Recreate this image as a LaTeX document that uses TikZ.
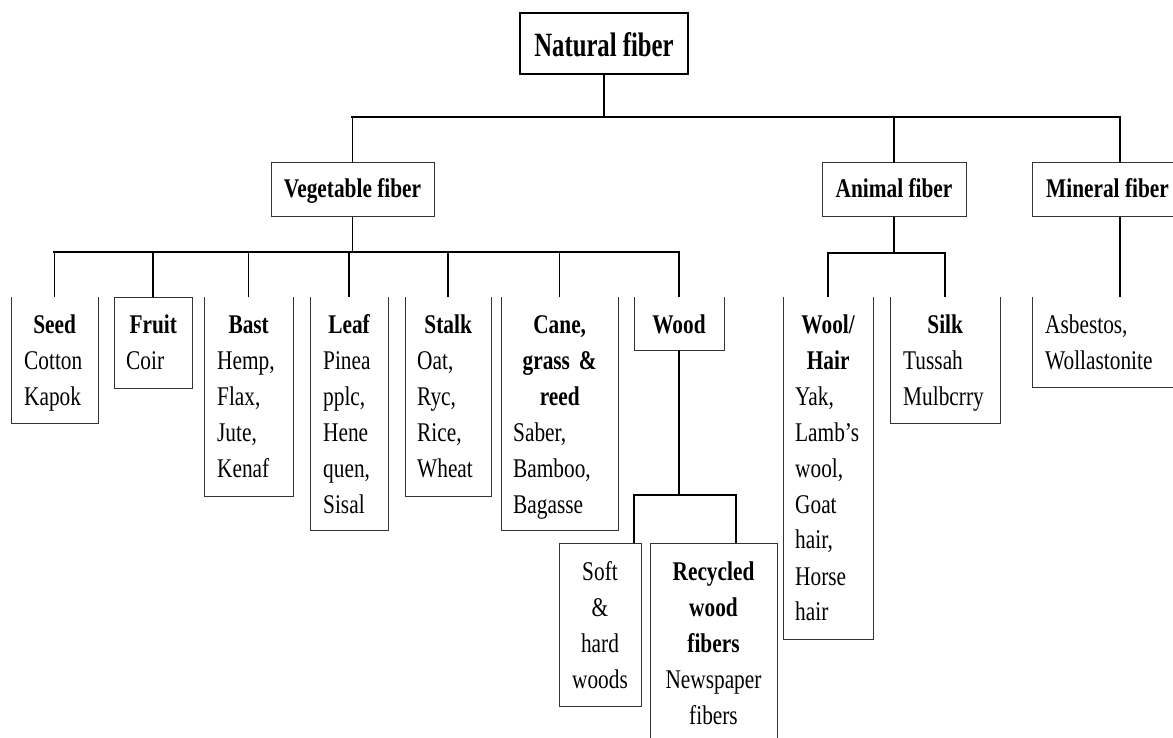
\documentclass[tikz,border=0pt]{standalone}
\usepackage{fontspec}
\setmainfont{Liberation Serif}[FakeStretch=0.79]
\newcommand{\fsz}{\fontsize{27}{36}\selectfont}
\newcommand{\hd}[2]{\makebox[#1][c]{\textbf{#2}}}
\begin{document}
\begin{tikzpicture}[x=1pt,y=-1pt,
  box/.style={inner sep=0pt, outer sep=0pt, anchor=north west},
  full/.style={box, draw=black!80, line width=1pt},
  side/.style={draw=black!80, line width=1pt},
  bus/.style={line width=2.2pt, line cap=rect},
  link/.style={line width=1.4pt},
  txt/.style={inner sep=0pt, font=\fsz, align=left, anchor=base west},
  ctxt/.style={inner sep=0pt, font=\fsz, align=center, anchor=base},
  lvl/.style={draw=black!80, line width=1pt, inner sep=0pt, outer sep=0pt, font=\fsz\bfseries,
              minimum height=54pt, text height=18pt, text depth=2pt}]
\useasboundingbox (0,0) rectangle (1173,738);
\clip (0,0) rectangle (1173,738);

% top level
\node[draw, line width=2.2pt, inner sep=0pt, minimum width=168pt, minimum height=61pt,
      text height=29pt, text depth=2pt, font=\fontsize{34}{40}\selectfont\bfseries]
      (nat) at (604,43.5) {\scalebox{0.92}[1]{Natural fiber}};

% second level
\node[lvl, minimum width=163pt] (veg) at (352.5,190) {Vegetable fiber};
\node[lvl, minimum width=144pt] (ani) at (894,190) {Animal fiber};
\node[draw=black!80, line width=1pt, box, minimum width=176pt, minimum height=54pt] (min) at (1032,163) {};
\node[inner sep=0pt, font=\fsz\bfseries, anchor=base west] (mint) at (1046,198) {Mineral fiber};

% third level boxes
\node[box, minimum width=87pt,  minimum height=126pt] (seed)  at (11,297) {};
\node[full, minimum width=78pt, minimum height=91pt]  (fruit) at (114,297) {};
\node[box, minimum width=89pt,  minimum height=199pt] (bast)  at (204,297) {};
\node[box, minimum width=78pt,  minimum height=233pt] (leaf)  at (310,297) {};
\node[box, minimum width=86pt,  minimum height=199pt] (stalk) at (405,297) {};
\node[box, minimum width=117pt, minimum height=233pt] (cane)  at (501,297) {};
\node[box, minimum width=90pt,  minimum height=53pt]  (wood)  at (634,297) {};
\node[box, minimum width=90pt,  minimum height=342pt] (wool)  at (783,297) {};
\node[box, minimum width=110pt, minimum height=126pt] (silk)  at (890,297) {};
\node[box, minimum width=176pt, minimum height=90pt]  (asb)   at (1032,297) {};
\node[full, minimum width=82pt, minimum height=163pt] (soft)  at (559,543) {};
\node[full, minimum width=127pt, minimum height=220pt] (recy) at (650,543) {};

\foreach \b in {seed,bast,leaf,stalk,cane,wood,wool,silk,asb}
  \draw[side] (\b.north west) |- (\b.south east) -- (\b.north east);

% texts
\node[txt, text width=61pt] (seedt) at (24,333) {\hd{61pt}{Seed}\\Cotton\\Kapok};
\node[txt, text width=54pt] (fruitt) at (126,333) {\hd{54pt}{Fruit}\\Coir};
\node[txt, text width=63pt] (bastt) at (217,333) {\hd{63pt}{Bast}\\Hemp,\\Flax,\\Jute,\\Kenaf};
\node[txt, text width=52pt] (leaft) at (323,333) {\hd{52pt}{Leaf}\\Pinea\\pplc,\\Hene\\quen,\\Sisal};
\node[txt, text width=62pt] (stalkt) at (417,333) {\hd{62pt}{Stalk}\\Oat,\\Ryc,\\Rice,\\Wheat};
\node[txt, text width=93pt] (canet) at (513,333) {\hd{93pt}{Cane,}\\\hd{93pt}{grass \&}\\\hd{93pt}{reed}\\Saber,\\Bamboo,\\Bagasse};
\node[ctxt, font=\fsz\bfseries] (woodt) at (679,333) {Wood};
\node[txt, text width=66pt] (woolt) at (795,333) {\hd{66pt}{Wool/}\\\hd{66pt}{Hair}\\Yak,\\Lamb’s\\wool,\\Goat\\hair,\\Horse\\hair};
\node[txt, text width=84pt] (silkt) at (903,333) {\hd{84pt}{Silk}\\Tussah\\Mulbcrry};
\node[txt, text width=150pt] (asbt) at (1045,333) {Asbestos,\\Wollastonite};
\node[ctxt, text width=76pt] (softt) at (600,580) {Soft\\\&\\hard\\woods};
\node[ctxt, text width=120pt] (recyt) at (713.5,580) {\textbf{Recycled}\\\textbf{wood}\\\textbf{fibers}\\Newspaper\\fibers};

% connectors
\coordinate (b1) at (0,117);
\coordinate (b2) at (0,252);
\coordinate (b3) at (0,253);
\coordinate (b4l) at (634,495);
\coordinate (b4r) at (736,495);

\draw[link] (nat.south) -- (nat.south |- b1);
\draw[bus] (veg.north |- b1) -- (min.north |- b1);
\foreach \b in {veg,ani,min}
  \draw[link] (\b.north |- b1) -- (\b.north);

\draw[link] (veg.south) -- (veg.south |- b2);
\draw[bus] (seed.north |- b2) -- (wood.north |- b2);
\foreach \b in {seed,fruit,bast,leaf,stalk,cane,wood}
  \draw[link] (\b.north |- b2) -- (\b.north);

\draw[link] (ani.south) -- (ani.south |- b3);
\draw[bus] (wool.north |- b3) -- (silk.north |- b3);
\foreach \b in {wool,silk}
  \draw[link] (\b.north |- b3) -- (\b.north);

\draw[link] (min.south) -- (asb.north);

\draw[link] (wood.south) -- (wood.south |- b4l);
\draw[bus] (b4l) -- (b4r);
\draw[link] (b4l) -- (b4l |- soft.north);
\draw[link] (b4r) -- (b4r |- recy.north);
\end{tikzpicture}
\end{document}
